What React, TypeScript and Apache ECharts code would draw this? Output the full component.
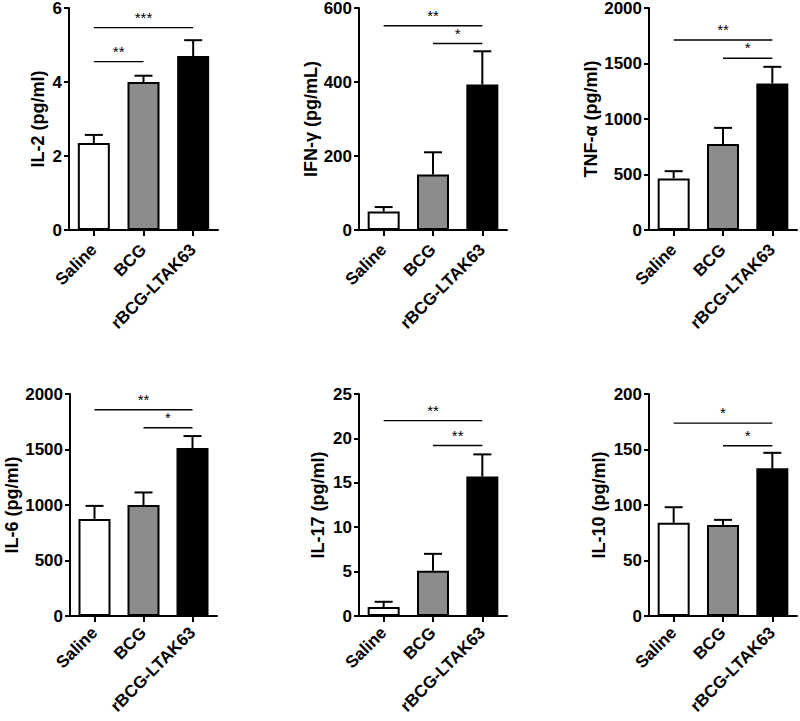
import React, { useEffect, useRef } from "react";
import * as echarts from "echarts";

const categories = ["Saline", "BCG", "rBCG-LTAK63"];
const barColors = ["#ffffff", "#8c8c8c", "#000000"];

const il2Mean = [2.35, 4.0, 4.7];
const il2Err = [0.22, 0.17, 0.43];
const ifnMean = [50, 150, 393];
const ifnErr = [12, 60, 90];
const tnfMean = [465, 775, 1320];
const tnfErr = [65, 145, 150];
const il6Mean = [875, 1000, 1513];
const il6Err = [117, 113, 108];
const il17Mean = [1.0, 5.1, 15.7];
const il17Err = [0.6, 1.9, 2.5];
const il10Mean = [84, 82, 133];
const il10Err = [14, 4.6, 14];

// [fromIndex, toIndex, yValue]
const il2Sig = [[0, 2, 5.47], [0, 1, 4.55]];
const il2SigLabels = ["***", "**"];
const ifnSig = [[0, 2, 552], [1, 2, 504]];
const ifnSigLabels = ["**", "*"];
const tnfSig = [[0, 2, 1712], [1, 2, 1547]];
const tnfSigLabels = ["**", "*"];
const il6Sig = [[0, 2, 1858], [1, 2, 1696]];
const il6SigLabels = ["**", "*"];
const il17Sig = [[0, 2, 22.0], [1, 2, 19.2]];
const il17SigLabels = ["**", "**"];
const il10Sig = [[0, 2, 173.8], [1, 2, 153.4]];
const il10SigLabels = ["*", "*"];

const panels = [
  { name: "IL-2 (pg/ml)", max: 6, interval: 2, mean: il2Mean, err: il2Err, sig: il2Sig, sigLabels: il2SigLabels, grid: { left: 69, top: 8, width: 149, height: 222 }, nameGap: 22, labelMargin: 17 },
  { name: "IFN-γ (pg/mL)", max: 600, interval: 200, mean: ifnMean, err: ifnErr, sig: ifnSig, sigLabels: ifnSigLabels, grid: { left: 359, top: 8, width: 148, height: 222 }, nameGap: 36, labelMargin: 17 },
  { name: "TNF-α (pg/ml)", max: 2000, interval: 500, mean: tnfMean, err: tnfErr, sig: tnfSig, sigLabels: tnfSigLabels, grid: { left: 649, top: 8, width: 148, height: 222 }, nameGap: 47, labelMargin: 17 },
  { name: "IL-6 (pg/ml)", max: 2000, interval: 500, mean: il6Mean, err: il6Err, sig: il6Sig, sigLabels: il6SigLabels, grid: { left: 70, top: 394, width: 147, height: 222 }, nameGap: 48, labelMargin: 14 },
  { name: "IL-17 (pg/ml)", max: 25, interval: 5, mean: il17Mean, err: il17Err, sig: il17Sig, sigLabels: il17SigLabels, grid: { left: 359, top: 394, width: 148, height: 222 }, nameGap: 32, labelMargin: 14 },
  { name: "IL-10 (pg/ml)", max: 200, interval: 50, mean: il10Mean, err: il10Err, sig: il10Sig, sigLabels: il10SigLabels, grid: { left: 649, top: 394, width: 148, height: 222 }, nameGap: 41, labelMargin: 14 },
];

const FONT = "'Liberation Sans', Arial, Helvetica, sans-serif";

export default function App() {
  const ref = useRef<HTMLDivElement>(null);
  useEffect(() => {
    if (!ref.current) return;
    const chart = echarts.init(ref.current, null, { renderer: "svg" });
    const grids: any[] = [];
    const xAxes: any[] = [];
    const yAxes: any[] = [];
    const series: any[] = [];
    panels.forEach((p, i) => {
      grids.push({ ...p.grid, containLabel: false, outerBoundsMode: "none" });
      xAxes.push({
        type: "category",
        gridIndex: i,
        data: categories,
        boundaryGap: true,
        axisLine: { show: true, lineStyle: { color: "#000", width: 2 } },
        axisTick: { show: true, alignWithLabel: true, length: 6, lineStyle: { color: "#000", width: 2 } },
        axisLabel: { rotate: 45, interval: 0, margin: p.labelMargin, color: "#000", fontSize: 17, fontWeight: "bold", fontFamily: FONT },
        splitLine: { show: false },
      });
      yAxes.push({
        type: "value",
        gridIndex: i,
        min: 0,
        max: p.max,
        interval: p.interval,
        name: p.name,
        nameLocation: "middle",
        nameGap: p.nameGap,
        nameTextStyle: { color: "#000", fontSize: 18, fontWeight: "bold", fontFamily: FONT },
        axisLine: { show: true, lineStyle: { color: "#000", width: 2 } },
        axisTick: { show: true, length: 5, lineStyle: { color: "#000", width: 2 } },
        axisLabel: { margin: 7, color: "#000", fontSize: 17, fontWeight: "bold", fontFamily: FONT, formatter: (v: number) => String(v) },
        splitLine: { show: false },
      });
      series.push({
        type: "bar",
        xAxisIndex: i,
        yAxisIndex: i,
        barWidth: 32,
        data: p.mean.map((v, k) => ({
          value: v,
          itemStyle: { color: barColors[k], borderColor: "#000", borderWidth: 2 },
        })),
        z: 2,
      });
      series.push({
        type: "custom",
        xAxisIndex: i,
        yAxisIndex: i,
        clip: false,
        z: 3,
        data: p.mean.map((v, k) => [k, v, v + p.err[k]]),
        renderItem: (params: any, api: any) => {
          const base = api.coord([api.value(0), api.value(1)]);
          const top = api.coord([api.value(0), api.value(2)]);
          const style = { stroke: "#000", lineWidth: 2 };
          return {
            type: "group",
            children: [
              { type: "line", shape: { x1: base[0], y1: base[1], x2: top[0], y2: top[1] }, style },
              { type: "line", shape: { x1: top[0] - 9, y1: top[1], x2: top[0] + 9, y2: top[1] }, style },
            ],
          };
        },
      });
      const labels = p.sigLabels;
      series.push({
        type: "custom",
        xAxisIndex: i,
        yAxisIndex: i,
        clip: false,
        z: 4,
        encode: { x: 0, y: 2 },
        data: p.sig,
        renderItem: (params: any, api: any) => {
          const a = api.coord([api.value(0), api.value(2)]);
          const b = api.coord([api.value(1), api.value(2)]);
          const label = labels[params.dataIndex];
          return {
            type: "group",
            children: [
              { type: "line", shape: { x1: a[0], y1: a[1], x2: b[0], y2: b[1] }, style: { stroke: "#000", lineWidth: 1.4 } },
              {
                type: "text",
                x: (a[0] + b[0]) / 2,
                y: a[1] - 3,
                style: { text: label, fill: "#000", fontSize: 15, fontFamily: FONT, align: "center", verticalAlign: "bottom" },
              },
            ],
          };
        },
      });
    });
    chart.setOption({
      animation: false,
      backgroundColor: "#ffffff",
      grid: grids,
      xAxis: xAxes,
      yAxis: yAxes,
      series,
    });
    return () => chart.dispose();
  }, []);
  return <div ref={ref} style={{ position: "fixed", left: 0, top: 0, width: 800, height: 721 }} />;
}
